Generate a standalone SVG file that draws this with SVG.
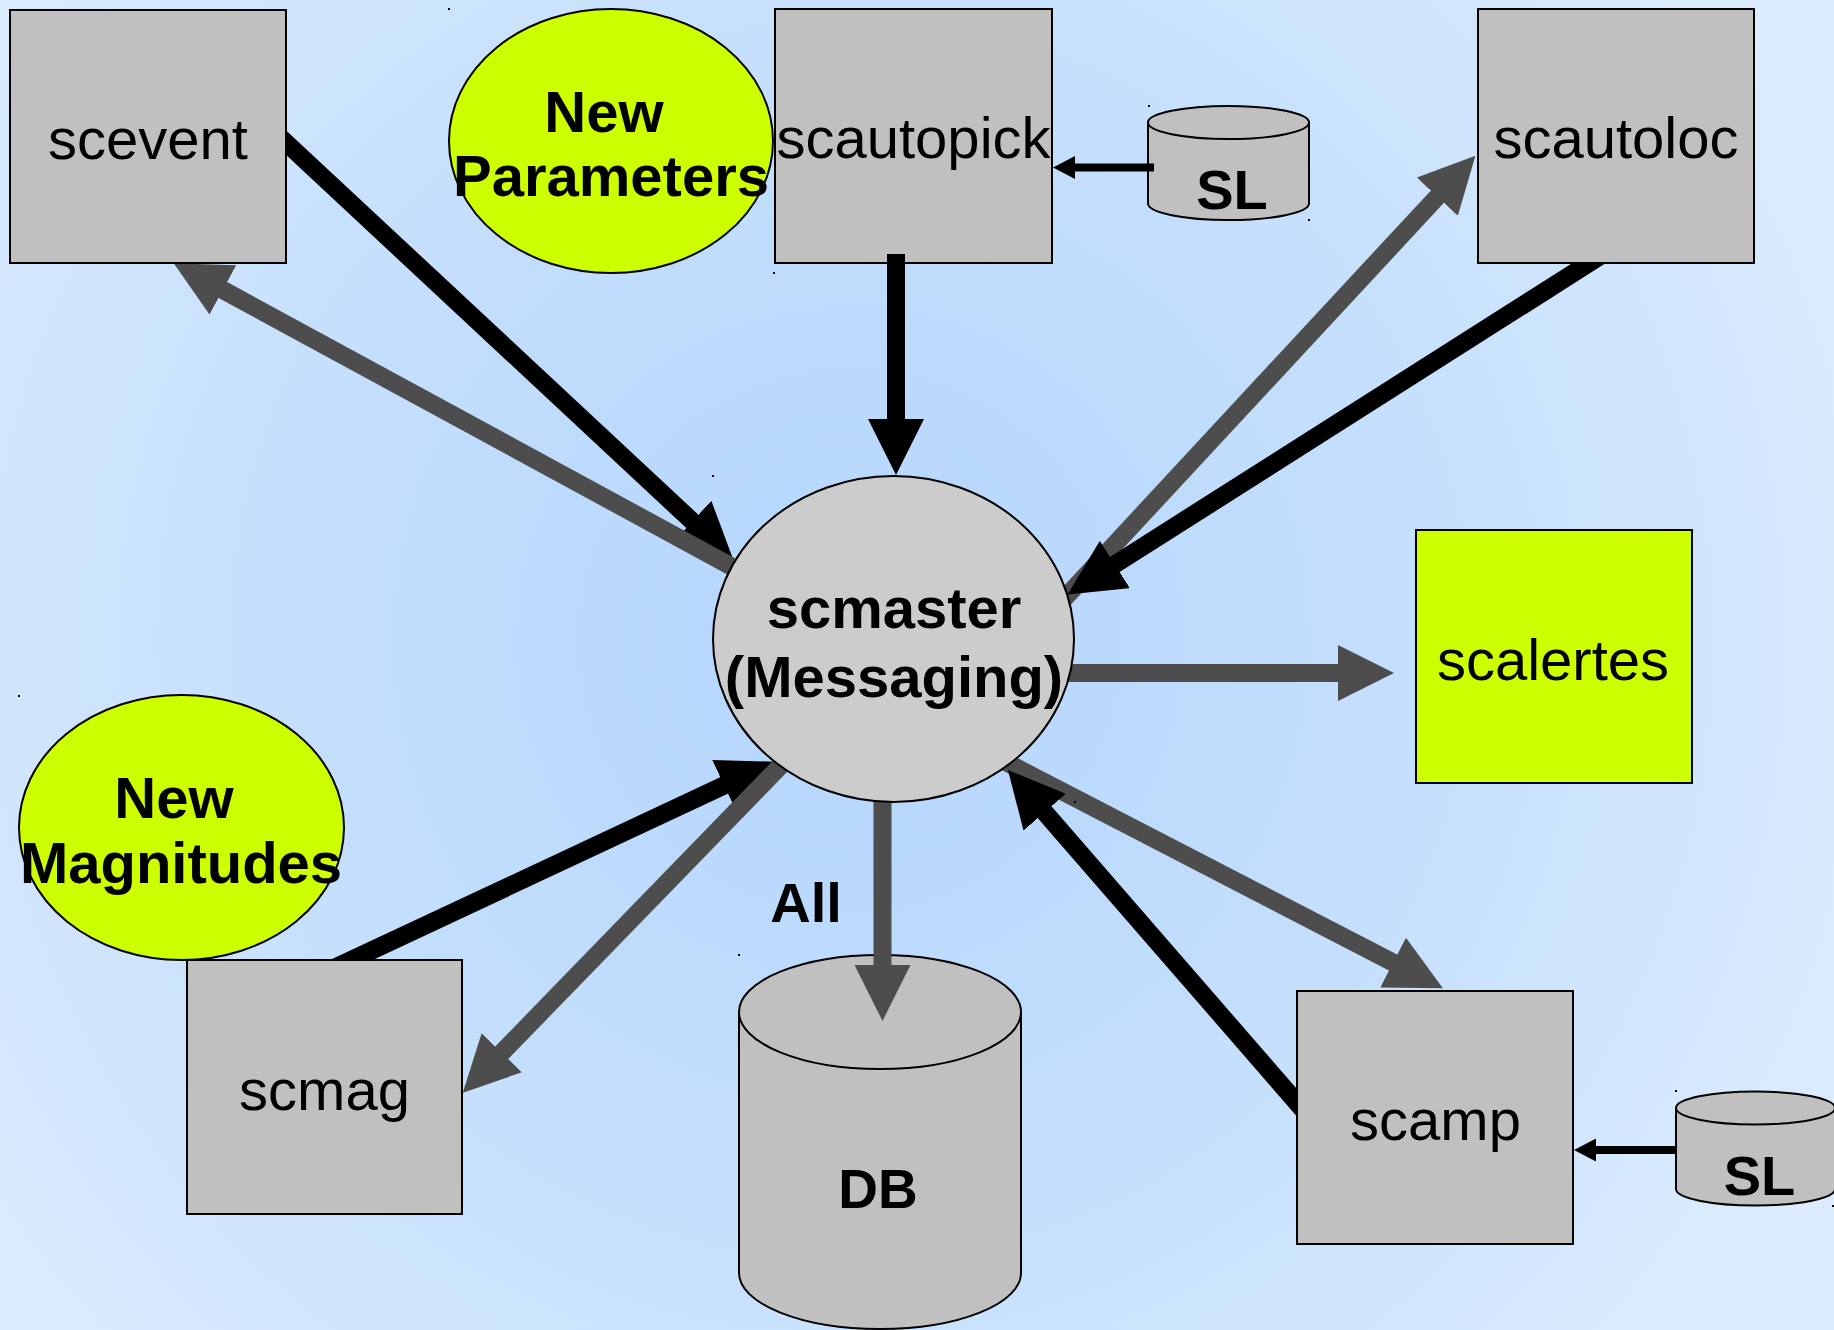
<svg xmlns="http://www.w3.org/2000/svg" width="1834" height="1330" viewBox="0 0 1834 1330">
  <defs>
    <radialGradient id="bg" cx="850" cy="640" r="1100" gradientUnits="userSpaceOnUse">
      <stop offset="0" stop-color="#b3d5fc"/>
      <stop offset="0.55" stop-color="#c6e0fc"/>
      <stop offset="1" stop-color="#dcecfe"/>
    </radialGradient>
    <marker id="ahBlack" markerUnits="userSpaceOnUse" markerWidth="56" markerHeight="56" viewBox="0 0 56 56" refX="1" refY="28" orient="auto">
      <path d="M0,0 L56,28 L0,56 z" fill="#000"/>
    </marker>
    <marker id="ahGray" markerUnits="userSpaceOnUse" markerWidth="56" markerHeight="56" viewBox="0 0 56 56" refX="1" refY="28" orient="auto">
      <path d="M0,0 L56,28 L0,56 z" fill="#4d4d4d"/>
    </marker>
    <marker id="ahSmall" markerUnits="userSpaceOnUse" markerWidth="22" markerHeight="23" viewBox="0 0 22 23" refX="1" refY="11.5" orient="auto">
      <path d="M0,0 L22,11.5 L0,23 z" fill="#000"/>
    </marker>
    <clipPath id="connClip">
      <path clip-rule="evenodd" d="M0,0H1834V1330H0Z M9,9h278v255h-278Z M1477,8h278v256h-278Z M186,959h277v256h-277Z M1296,990h278v255h-278Z"/>
    </clipPath>
  </defs>
  <style>
    .box { fill: #c0c0c0; stroke: #000; stroke-width: 2; }
    .hub { fill: #cccccc; stroke: #000; stroke-width: 2; }
    .yel { fill: #ccff00; stroke: #000; stroke-width: 2; }
    .cyl { fill: #c0c0c0; stroke: #000; stroke-width: 2; }
    .lbl { font-family: "Liberation Sans", Arial, sans-serif; font-size: 58px; fill: #000; text-anchor: middle; }
    .bld { font-family: "Liberation Sans", Arial, sans-serif; font-size: 58px; font-weight: bold; fill: #000; text-anchor: middle; }
    .bsm { font-family: "Liberation Sans", Arial, sans-serif; font-size: 56px; font-weight: bold; fill: #000; text-anchor: middle; }
    .blk { fill: none; stroke: #000; stroke-width: 18; marker-end: url(#ahBlack); }
    .gry { fill: none; stroke: #4d4d4d; stroke-width: 18; marker-end: url(#ahGray); }
    .thin { fill: none; stroke: #000; stroke-width: 8; marker-end: url(#ahSmall); }
    .dot { fill: #000; }
  </style>

  <rect x="0" y="0" width="1834" height="1330" fill="url(#bg)"/>

  <g id="scevent">
    <rect class="box" x="10" y="10" width="276" height="253"/>
    <text class="lbl" x="148" y="159">scevent</text>
  </g>

  <g id="new-parameters">
    <ellipse class="yel" cx="611" cy="141" rx="162" ry="132"/>
    <text class="bld" x="604" y="132">New</text>
    <text class="bld" x="611" y="196">Parameters</text>
  </g>

  <g id="scautopick">
    <rect class="box" x="775" y="9" width="277" height="254"/>
    <text class="lbl" x="913.5" y="158">scautopick</text>
  </g>

  <g id="sl-top">
    <path class="cyl" d="M1148,122.5 L1148,203.5 A80.5,16.5 0 0 0 1309,203.5 L1309,122.5 Z"/>
    <ellipse class="cyl" cx="1228.5" cy="122.5" rx="80.5" ry="16.5"/>
    <text class="bsm" x="1232" y="209">SL</text>
  </g>

  <g id="scautoloc">
    <rect class="box" x="1478" y="9" width="276" height="254"/>
    <text class="lbl" x="1616" y="158">scautoloc</text>
  </g>

  <g id="scalertes">
    <rect class="yel" x="1416" y="530" width="276" height="253"/>
    <text class="lbl" x="1553" y="680">scalertes</text>
  </g>

  <g id="new-magnitudes">
    <ellipse class="yel" cx="181.5" cy="827.5" rx="162.5" ry="132.5"/>
    <text class="bld" x="174" y="818">New</text>
    <text class="bld" x="181" y="883">Magnitudes</text>
  </g>

  <g id="scmag">
    <rect class="box" x="187" y="960" width="275" height="254"/>
    <text class="lbl" x="324.5" y="1110">scmag</text>
  </g>

  <g id="db">
    <path class="cyl" d="M739,1012 L739,1273 A141,56 0 0 0 1021,1273 L1021,1012 Z"/>
    <ellipse class="cyl" cx="880" cy="1012" rx="141" ry="57"/>
    <text class="bld" x="878" y="1208" style="font-size:55px">DB</text>
  </g>

  <g id="scamp">
    <rect class="box" x="1297" y="991" width="276" height="253"/>
    <text class="lbl" x="1435.5" y="1140">scamp</text>
  </g>

  <g id="sl-bottom">
    <path class="cyl" d="M1676,1108 L1676,1189 A79.5,16.5 0 0 0 1835,1189 L1835,1108 Z"/>
    <ellipse class="cyl" cx="1755.5" cy="1108" rx="79.5" ry="16.5"/>
    <text class="bsm" x="1759.5" y="1195">SL</text>
  </g>

  <g id="connectors" clip-path="url(#connClip)">
    <path class="blk" d="M280,137 L693,522"/>
    <path class="gry" d="M760,582 L222,289.5"/>
    <path class="blk" d="M896,254 L896,420"/>
    <path class="thin" d="M1154,167.5 L1074,167.5"/>
    <path class="gry" d="M1050,614 L1438,196"/>
    <path class="blk" d="M1605,253 L1114,565"/>
    <path class="gry" d="M1050,673 L1339,673"/>
    <path class="gry" d="M990,754 L1394,963"/>
    <path class="blk" d="M1305,1112 L1044,811.5"/>
    <path class="thin" d="M1676,1150 L1595,1150"/>
    <path class="blk" d="M330,970 L725,785"/>
    <path class="gry" d="M790,756 L501,1053.5"/>
    <path class="gry" d="M882.5,790 L882.5,966"/>
    <text class="bsm" x="806" y="922">All</text>
  </g>

  <g id="scmaster">
    <ellipse class="hub" cx="893.5" cy="639" rx="180.5" ry="163"/>
    <text class="bld" x="894" y="628">scmaster</text>
    <text class="bld" x="894" y="697">(Messaging)</text>
  </g>

  <g id="handles">
    <rect class="dot" x="448" y="8" width="2" height="2"/>
    <rect class="dot" x="712" y="475" width="2" height="2"/>
    <rect class="dot" x="773" y="272" width="2" height="2"/>
    <rect class="dot" x="1148" y="105" width="2" height="2"/>
    <rect class="dot" x="1308" y="138" width="2" height="2"/>
    <rect class="dot" x="1308" y="219" width="2" height="2"/>
    <rect class="dot" x="18" y="695" width="2" height="2"/>
    <rect class="dot" x="738" y="954" width="2" height="2"/>
    <rect class="dot" x="1020" y="1069" width="2" height="2"/>
    <rect class="dot" x="1074" y="801" width="2" height="2"/>
    <rect class="dot" x="1675" y="1090" width="2" height="2"/>
    <rect class="dot" x="1832" y="1205" width="2" height="2"/>
  </g>
</svg>
